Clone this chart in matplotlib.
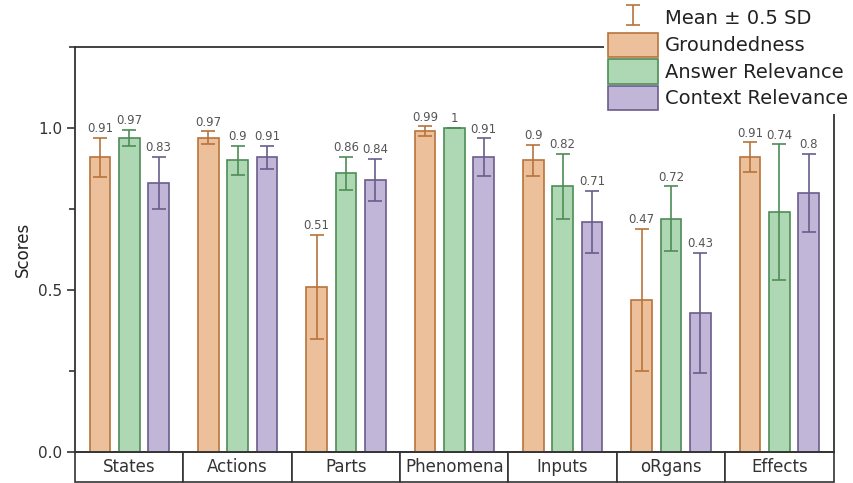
import numpy as np
import matplotlib
matplotlib.use('Agg')
import matplotlib.pyplot as plt
from matplotlib.ticker import MultipleLocator

categories = ['States', 'Actions', 'Parts', 'Phenomena', 'Inputs', 'oRgans', 'Effects']
series_names = ['Groundedness', 'Answer Relevance', 'Context Relevance']

groundedness = [0.91, 0.97, 0.51, 0.99, 0.90, 0.47, 0.91]
answer_rel = [0.97, 0.90, 0.86, 1.00, 0.82, 0.72, 0.74]
context_rel = [0.83, 0.91, 0.84, 0.91, 0.71, 0.43, 0.80]

# half standard deviations
groundedness_err = [0.06, 0.02, 0.16, 0.015, 0.048, 0.22, 0.046]
answer_rel_err = [0.025, 0.046, 0.05, 0.0, 0.10, 0.10, 0.21]
context_rel_err = [0.08, 0.035, 0.065, 0.058, 0.095, 0.185, 0.12]

fills = ['#EBC09A', '#AED8B3', '#C2B6D8']
edges = ['#B8733C', '#4E8C55', '#6A5C8C']

fig = plt.figure(figsize=(8.54, 4.83), dpi=100)
ax = fig.add_axes([0.088, 0.064, 0.888, 0.8385])

x = np.arange(len(categories))
width = 0.19
offsets = [-0.27, 0.0, 0.27]
values = [groundedness, answer_rel, context_rel]
errs = [groundedness_err, answer_rel_err, context_rel_err]

err_handle = None
for i in range(3):
    ax.bar(x + offsets[i], values[i], width, color=fills[i], edgecolor=edges[i],
           linewidth=1.2, label=series_names[i], zorder=2)
    eb = ax.errorbar(x + offsets[i], values[i], yerr=errs[i], fmt='none',
                     ecolor=edges[i], elinewidth=1.2, capsize=5, capthick=1.2, zorder=3)
    if i == 0:
        err_handle = eb
    for xi, v, e in zip(x + offsets[i], values[i], errs[i]):
        ax.annotate(f'{v:g}', (xi, v + e), xytext=(0, 2), textcoords='offset points',
                    ha='center', va='bottom', fontsize=8.5, color='#555555')

ax.set_xlim(-0.5, len(categories) - 0.5)
ax.set_ylim(0, 1.25)
ax.set_xticks([])
ax.yaxis.set_major_locator(MultipleLocator(0.5))
ax.yaxis.set_minor_locator(MultipleLocator(0.25))
ax.set_yticks([0.0, 0.5, 1.0])
ax.set_yticklabels(['0.0', '0.5', '1.0'], fontsize=11, color='#333333')
ax.tick_params(axis='y', which='major', direction='out', length=6, width=1.2, color='#333333')
ax.tick_params(axis='y', which='minor', direction='out', length=4, width=1.2, color='#333333')
ax.set_ylabel('Scores', fontsize=12, color='#222222')
for s in ax.spines.values():
    s.set_color('#333333')
    s.set_linewidth(1.3)

tbl = ax.table(cellText=[categories], cellLoc='center', bbox=[0, -0.075, 1, 0.075])
tbl.auto_set_font_size(False)
tbl.set_fontsize(12)
for cell in tbl.get_celld().values():
    cell.set_edgecolor('#333333')
    cell.set_linewidth(1.2)
    cell.get_text().set_color('#333333')

handles, labels = ax.get_legend_handles_labels()
leg = fig.legend([err_handle] + handles, ['Mean ± 0.5 SD'] + labels,
                 loc='upper right', bbox_to_anchor=(1.0, 1.0), fontsize=14,
                 frameon=True, fancybox=False, edgecolor='none', facecolor='white',
                 framealpha=1, handlelength=2.6, handleheight=1.55, labelspacing=0.12,
                 handletextpad=0.35, borderpad=0.2, borderaxespad=0.1)
for t in leg.get_texts():
    t.set_color('#222222')

fig.savefig('out.png', dpi=100)
